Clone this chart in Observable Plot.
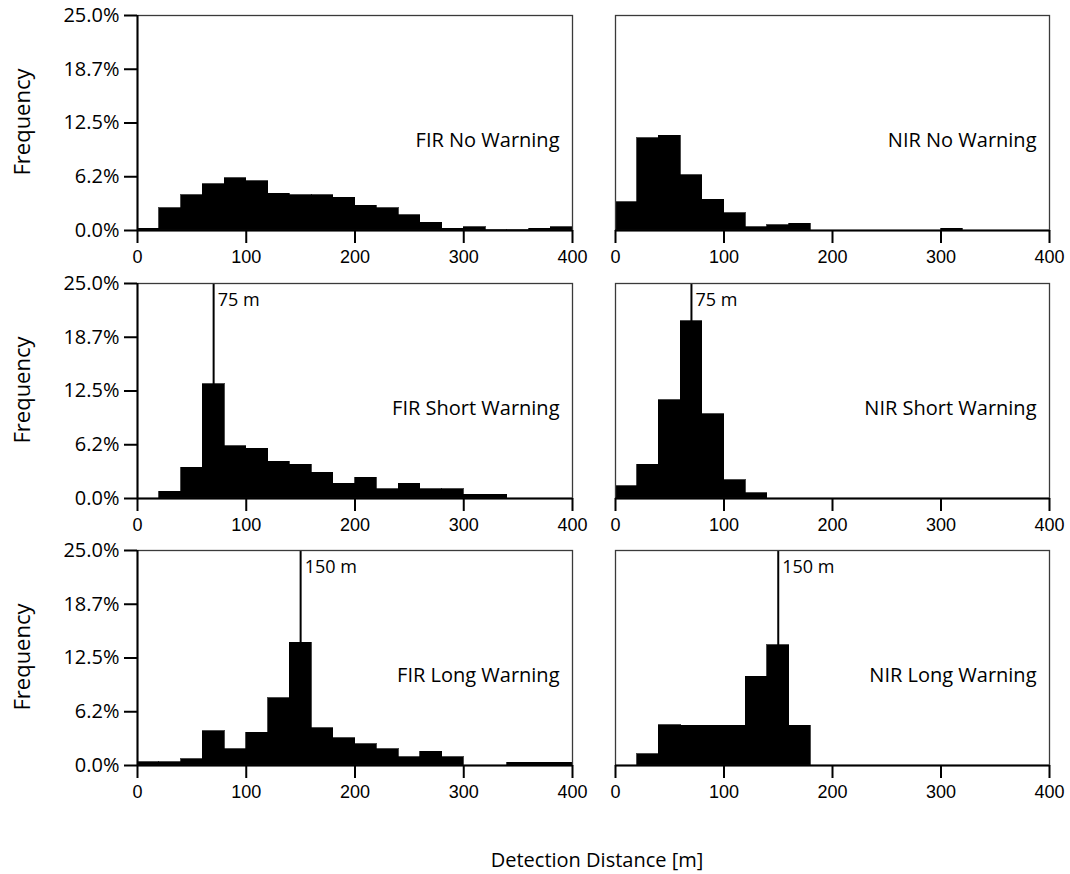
<!DOCTYPE html>
<html>
<head>
<meta charset="utf-8">
<script src="https://cdn.jsdelivr.net/npm/d3@7"></script>
<script src="https://cdn.jsdelivr.net/npm/@observablehq/plot@0.6"></script>
<style>
  html, body { margin: 0; padding: 0; background: #ffffff; }
  #root { position: relative; width: 1070px; height: 874px; overflow: hidden; font-family: "Open Sans", sans-serif; color: #000; }
  .panel { position: absolute; }
  .ylab { position: absolute; font-size: 22px; transform: rotate(-90deg); transform-origin: center center; white-space: nowrap; }
  .xlab { position: absolute; font-size: 20px; white-space: nowrap; }
</style>
</head>
<body>
<div id="root"></div>
<script>
// Bin start edges (m), bins are 20 m wide
const binStart = [0, 20, 40, 60, 80, 100, 120, 140, 160, 180, 200, 220, 240, 260, 280, 300, 320, 340, 360, 380];
const binWidth = 20;

// Frequencies (%) per bin
const firNoWarning    = [0.2, 2.6, 4.1, 5.4, 6.1, 5.7, 4.3, 4.1, 4.1, 3.8, 2.9, 2.6, 1.8, 0.9, 0.2, 0.4, 0.05, 0.05, 0.2, 0.4];
const nirNoWarning    = [3.3, 10.7, 11.0, 6.4, 3.6, 2.0, 0.4, 0.6, 0.8, 0, 0, 0, 0, 0, 0, 0.2, 0, 0, 0, 0];
const firShortWarning = [0, 0.8, 3.6, 13.3, 6.1, 5.8, 4.25, 3.9, 3.0, 1.7, 2.4, 1.1, 1.7, 1.1, 1.1, 0.45, 0.45, 0, 0, 0];
const nirShortWarning = [1.4, 3.9, 11.4, 20.6, 9.8, 2.1, 0.6, 0, 0, 0, 0, 0, 0, 0, 0, 0, 0, 0, 0, 0];
const firLongWarning  = [0.4, 0.4, 0.7, 4.0, 1.9, 3.8, 7.8, 14.3, 4.35, 3.15, 2.5, 1.9, 0.95, 1.6, 0.95, 0, 0, 0.3, 0.3, 0.3];
const nirLongWarning  = [0, 1.3, 4.7, 4.6, 4.6, 4.6, 10.3, 14.0, 4.6, 0, 0, 0, 0, 0, 0, 0, 0, 0, 0, 0];

const panelLabels = ["FIR No Warning", "NIR No Warning", "FIR Short Warning", "NIR Short Warning", "FIR Long Warning", "NIR Long Warning"];

// Warning distance markers
const shortMarker = [70];
const shortMarkerLabel = ["75 m"];
const longMarker = [150];
const longMarkerLabel = ["150 m"];

// Axis ticks
const xTicks = [0, 100, 200, 300, 400];
const yTicks = [0, 6.25, 12.5, 18.75, 25];
const yTickLabels = ["0.0%", "6.2%", "12.5%", "18.7%", "25.0%"];
const yLabelMap = new Map(yTicks.map((t, i) => [t, yTickLabels[i]]));

const yTitle = "Frequency";
const xTitle = "Detection Distance [m]";

const root = document.getElementById("root");

function panel(values, label, marker, markerLabel, isLeft, top) {
  const rows = binStart.map((b, i) => ({x1: b, x2: b + binWidth, y: values[i]}));
  const width = isLeft ? 590 : 480;
  const marks = [
    Plot.rectY(rows.filter(r => r.y > 0), {x1: "x1", x2: "x2", y: "y", fill: "black", stroke: "black", strokeWidth: 0.7, inset: 0, shapeRendering: "crispEdges"}),
  ];
  if (marker) {
    marks.push(Plot.ruleX(marker, {x: d => d, y1: 0, y2: 25, stroke: "black", strokeWidth: 2}));
    marks.push(Plot.text(marker, {x: d => d, y: 25, text: (d, i) => markerLabel[i], dx: 4, dy: 17, textAnchor: "start", fontSize: 18, fill: "black", fontFamily: "Open Sans"}));
  }
  marks.push(Plot.text([label], {x: 400, y: 10.5, text: d => d, dx: -13, textAnchor: "end", fontSize: 20, fill: "black", fontFamily: "Open Sans"}));
  marks.push(Plot.frame({stroke: "#3a3a3a", strokeWidth: 1.3}));
  marks.push(Plot.ruleY([0], {stroke: "black", strokeWidth: 2}));
  if (isLeft) marks.push(Plot.ruleX([0], {stroke: "black", strokeWidth: 2}));
  marks.push(Plot.axisX(xTicks, {tickSize: 13, tickPadding: 7, strokeWidth: 2, fontSize: 18, fontFamily: "Liberation Sans", fill: "black", label: null}));
  if (isLeft) {
    marks.push(Plot.axisY(yTicks, {tickSize: 13, tickPadding: 5, strokeWidth: 2, fontSize: 20, fontFamily: "Open Sans", fill: "black", tickFormat: d => yLabelMap.get(d), label: null}));
  }
  const svg = Plot.plot({
    width,
    height: 275,
    marginTop: 15,
    marginBottom: 45,
    marginLeft: isLeft ? 137 : 25,
    marginRight: isLeft ? 18 : 21,
    x: {domain: [0, 400], axis: null},
    y: {domain: [0, 25], axis: null},
    style: {background: "transparent", color: "black", overflow: "visible"},
    marks
  });
  const div = document.createElement("div");
  div.className = "panel";
  div.style.left = (isLeft ? 0 : 590) + "px";
  div.style.top = top + "px";
  div.appendChild(svg);
  root.appendChild(div);
}

const rowTops = [0, 268, 535];
panel(firNoWarning, panelLabels[0], null, null, true, rowTops[0]);
panel(nirNoWarning, panelLabels[1], null, null, false, rowTops[0]);
panel(firShortWarning, panelLabels[2], shortMarker, shortMarkerLabel, true, rowTops[1]);
panel(nirShortWarning, panelLabels[3], shortMarker, shortMarkerLabel, false, rowTops[1]);
panel(firLongWarning, panelLabels[4], longMarker, longMarkerLabel, true, rowTops[2]);
panel(nirLongWarning, panelLabels[5], longMarker, longMarkerLabel, false, rowTops[2]);

// Y titles, centered on each row's plot area
rowTops.forEach(t => {
  const d = document.createElement("div");
  d.className = "ylab";
  d.textContent = yTitle;
  d.style.width = "140px";
  d.style.textAlign = "center";
  d.style.left = (21 - 70) + "px";
  d.style.top = (t + 15 + 107 - 15) + "px";
  d.style.lineHeight = "30px";
  root.appendChild(d);
});

const xl = document.createElement("div");
xl.className = "xlab";
xl.textContent = xTitle;
xl.style.width = "400px";
xl.style.textAlign = "center";
xl.style.left = (597 - 200) + "px";
xl.style.top = "846px";
root.appendChild(xl);
</script>
</body>
</html>
